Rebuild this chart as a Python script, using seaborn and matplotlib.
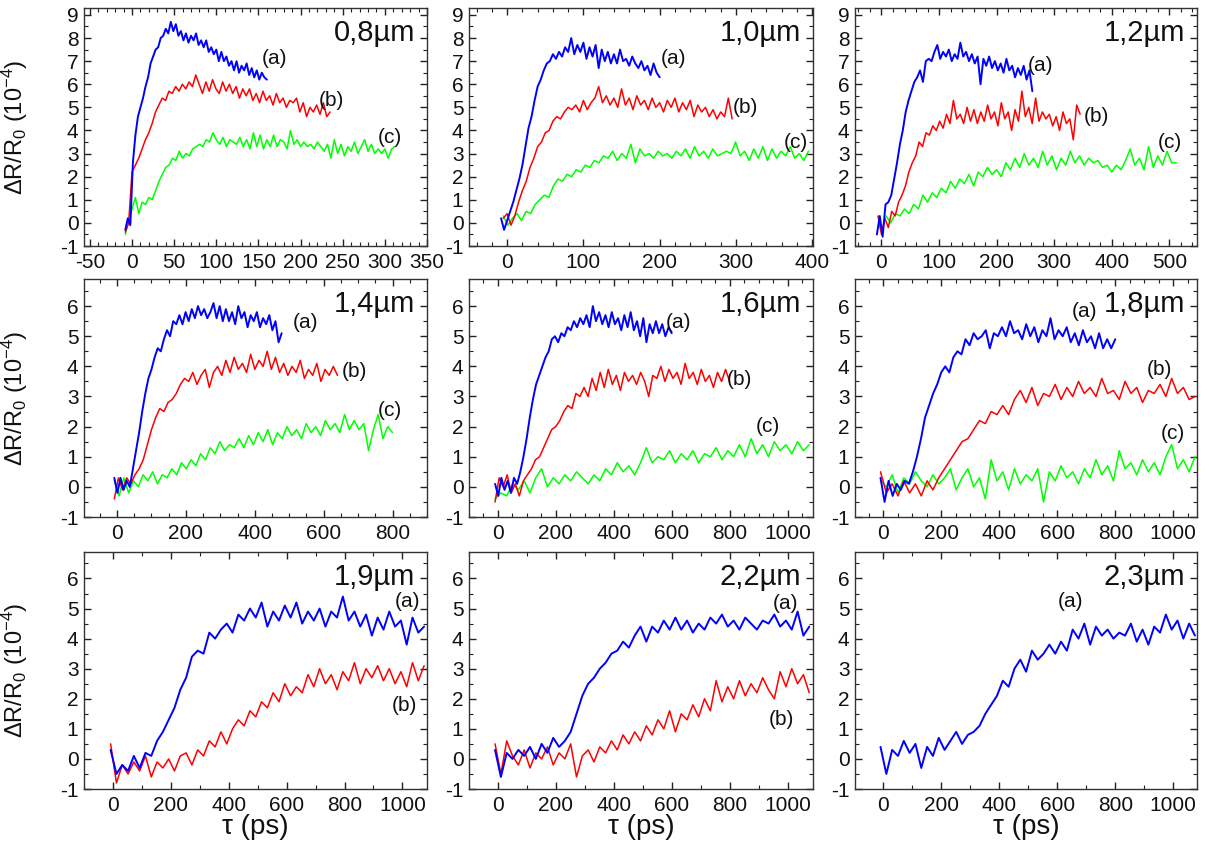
import numpy as np
import pandas as pd
import matplotlib
matplotlib.use("Agg")
import matplotlib.pyplot as plt
from matplotlib.ticker import MultipleLocator, AutoMinorLocator
import seaborn as sns

# ---------------- data ----------------
# Each trace: delay range (start, end) in ps and the dR/R0 values (1e-4), evenly sampled.
panel_titles = ["0,8µm", "1,0µm", "1,2µm", "1,4µm", "1,6µm", "1,8µm", "1,9µm", "2,2µm", "2,3µm"]

# 0.8 um
p1_a_range = (-8, 160)
p1_a = [-0.3, 0.2, -0.1, 2.6, 3.8, 4.6, 5.0, 5.4, 5.9, 6.3, 6.9, 7.2, 7.5, 7.6, 8.0, 8.1, 8.4, 8.2, 8.7, 8.3,
        8.6, 8.1, 8.3, 7.9, 8.2, 7.8, 8.1, 7.9, 8.2, 7.7, 7.9, 7.6, 7.9, 7.4, 7.6, 7.3, 7.5, 7.0, 7.4, 7.0,
        7.2, 6.8, 7.0, 6.6, 7.0, 6.5, 6.8, 6.6, 6.9, 6.4, 6.7, 6.3, 6.6, 6.2, 6.5, 6.3, 6.2]
p1_b_range = (-8, 235)
p1_b = [-0.4, 0.0, 2.2, 2.5, 2.8, 3.2, 3.6, 3.9, 4.3, 4.8, 5.1, 5.4, 5.3, 5.7, 5.6, 5.9, 5.7, 6.0, 5.8, 6.1,
        5.9, 6.4, 6.0, 5.6, 6.1, 5.7, 6.2, 5.8, 5.6, 6.1, 5.7, 6.0, 5.6, 5.9, 5.4, 5.8, 5.5, 5.8, 5.3, 5.6,
        5.2, 5.7, 5.3, 5.5, 5.1, 5.6, 5.2, 5.4, 5.0, 5.3, 5.2, 5.4, 4.8, 5.2, 4.6, 5.0, 4.8, 5.1, 4.7, 5.2,
        4.6, 4.8]
p1_c_range = (-8, 312)
p1_c = [-0.5, 0.1, 0.6, 1.1, 0.4, 0.9, 0.8, 1.1, 1.0, 1.4, 1.8, 2.1, 2.4, 2.5, 2.8, 2.7, 3.1, 2.8, 3.0, 2.9,
        3.2, 3.3, 3.4, 3.3, 3.6, 3.5, 3.9, 3.6, 3.4, 3.7, 3.3, 3.6, 3.5, 3.4, 3.7, 3.3, 3.6, 3.2, 3.9, 3.3,
        3.8, 3.2, 3.6, 3.3, 3.8, 3.3, 3.6, 3.5, 3.2, 4.0, 3.4, 3.6, 3.3, 3.5, 3.3, 3.4, 3.2, 3.5, 3.3, 3.1,
        3.4, 2.8, 3.6, 3.0, 3.4, 2.9, 3.3, 3.1, 3.5, 3.0, 3.3, 3.6, 3.1, 3.4, 3.0, 3.2, 3.0, 3.2, 2.8, 3.2,
        3.3]

# 1.0 um
p2_a_range = (-8, 200)
p2_a = [0.2, -0.3, 0.1, 0.5, 0.9, 1.4, 1.9, 2.5, 3.3, 4.1, 4.6, 5.3, 5.9, 6.2, 6.6, 6.9, 7.0, 7.3, 7.1, 7.4,
        7.2, 7.6, 7.4, 8.0, 7.3, 7.7, 7.4, 7.8, 7.1, 7.6, 7.2, 7.7, 6.7, 7.5, 7.0, 7.4, 6.9, 7.3, 6.9, 7.5,
        7.0, 7.1, 6.8, 7.2, 6.9, 6.7, 7.0, 6.6, 6.8, 6.4, 6.9, 6.5, 6.3]
p2_b_range = (-5, 295)
p2_b = [0.2, 0.4, -0.1, 0.3, 0.9, 1.4, 1.8, 2.4, 2.8, 3.3, 3.5, 3.9, 4.0, 4.4, 4.6, 4.5, 4.8, 5.0, 4.9, 5.1,
        4.8, 5.3, 4.9, 5.2, 5.4, 5.9, 5.2, 5.5, 5.1, 5.4, 5.0, 5.8, 5.1, 5.4, 4.9, 5.5, 5.1, 5.3, 4.9, 5.4,
        5.0, 5.2, 4.8, 5.3, 5.0, 5.4, 4.8, 5.2, 4.9, 5.3, 4.6, 5.1, 4.8, 5.0, 4.6, 4.9, 4.5, 4.8, 4.6, 5.4,
        4.5]
p2_c_range = (-5, 395)
p2_c = [0.3, -0.1, 0.2, 0.4, 0.1, 0.5, 0.4, 0.8, 1.0, 1.2, 1.1, 1.6, 1.9, 1.8, 2.1, 2.0, 2.3, 2.2, 2.5, 2.4,
        2.7, 2.6, 2.9, 2.8, 3.1, 2.7, 3.0, 2.8, 3.4, 2.6, 3.2, 2.9, 3.0, 2.8, 3.1, 2.9, 3.0, 2.8, 3.1, 2.9,
        3.2, 2.8, 3.3, 2.9, 3.1, 2.8, 3.2, 2.9, 3.0, 3.1, 3.0, 3.5, 2.9, 3.1, 2.7, 3.2, 2.8, 3.3, 2.7, 3.2,
        2.8, 3.1, 2.9, 3.3, 2.8, 3.0, 2.7, 3.1]

# 1.2 um
p3_a_range = (-8, 262)
p3_a = [-0.5, 0.3, -0.6, 0.8, 0.9, 1.2, 1.9, 2.6, 3.4, 4.0, 4.8, 5.3, 5.7, 6.1, 6.3, 6.6, 6.1, 7.0, 7.1, 7.0,
        7.4, 7.7, 7.1, 7.4, 7.2, 7.5, 7.0, 7.3, 7.1, 7.8, 7.2, 7.4, 7.0, 7.3, 6.9, 7.2, 6.0, 7.1, 6.8, 7.2,
        6.7, 7.0, 6.6, 6.9, 6.5, 7.1, 6.6, 6.8, 6.3, 6.7, 6.4, 6.8, 6.2, 6.6, 5.7]
p3_b_range = (-6, 345)
p3_b = [0.3, -0.5, 0.2, -0.2, 0.5, 0.3, 0.9, 1.2, 1.6, 2.2, 2.6, 2.9, 3.5, 3.3, 3.9, 3.8, 4.2, 4.0, 4.4, 4.1,
        4.7, 4.3, 5.3, 4.5, 4.7, 4.3, 5.0, 4.4, 4.9, 4.3, 4.8, 4.4, 5.1, 4.5, 4.8, 4.2, 5.2, 4.5, 4.8, 4.0,
        4.9, 4.4, 5.7, 4.6, 5.0, 4.3, 5.4, 4.4, 4.8, 4.5, 4.7, 4.2, 4.6, 4.0, 4.8, 4.3, 4.5, 3.6, 5.1, 4.7]
p3_c_range = (8, 512)
p3_c = [0.3, 0.0, 0.4, 0.3, 0.6, 0.4, 0.8, 0.6, 1.2, 0.9, 1.3, 1.1, 1.5, 1.3, 1.8, 1.5, 1.9, 1.7, 2.1, 1.6,
        2.2, 2.0, 2.4, 2.1, 2.3, 2.0, 2.6, 2.3, 2.8, 2.4, 3.0, 2.5, 2.8, 2.4, 3.1, 2.5, 2.9, 2.3, 2.8, 2.5,
        3.1, 2.6, 2.9, 2.5, 2.8, 2.6, 2.7, 2.4, 2.5, 2.2, 2.5, 2.3, 2.7, 3.2, 2.5, 2.8, 2.3, 3.3, 2.4, 2.9,
        2.5, 3.1, 2.6, 2.6]

# 1.4 um
p4_a_range = (-8, 478)
p4_a = [0.3, -0.2, 0.3, -0.1, 0.2, 0.0, 0.6, 1.2, 1.8, 2.5, 3.1, 3.6, 3.9, 4.3, 4.6, 4.5, 4.9, 5.2, 5.0, 5.5,
        5.4, 5.7, 5.4, 5.8, 5.5, 5.9, 5.6, 6.0, 5.7, 5.9, 5.6, 5.8, 6.1, 5.6, 6.0, 5.5, 5.9, 5.5, 5.8, 5.4,
        6.0, 5.6, 5.8, 5.3, 5.7, 5.5, 5.8, 5.3, 5.6, 5.4, 5.7, 5.2, 5.5, 4.8, 5.1]
p4_b_range = (-8, 640)
p4_b = [-0.4, 0.3, -0.1, 0.3, 0.1, 0.4, 0.6, 0.9, 1.4, 1.9, 2.3, 2.6, 2.5, 2.8, 2.9, 3.1, 3.4, 3.6, 3.5, 3.8,
        3.4, 3.7, 3.9, 3.3, 3.8, 4.0, 3.7, 4.2, 3.8, 4.3, 3.9, 4.1, 3.8, 4.4, 3.9, 4.2, 4.0, 4.5, 3.9, 4.3,
        3.8, 4.1, 3.7, 4.0, 3.8, 4.2, 3.6, 3.9, 3.7, 4.1, 3.5, 3.9, 3.7, 4.0, 3.7]
p4_c_range = (-8, 800)
p4_c = [0.2, -0.3, 0.3, -0.2, 0.2, 0.0, 0.4, 0.2, 0.5, 0.1, 0.4, 0.3, 0.6, 0.4, 0.8, 0.6, 0.9, 0.7, 1.1, 0.9,
        1.3, 1.1, 1.5, 1.2, 1.4, 1.3, 1.6, 1.3, 1.7, 1.4, 1.8, 1.5, 1.9, 1.4, 1.8, 1.6, 2.0, 1.7, 1.9, 1.6,
        2.1, 1.8, 2.0, 1.7, 2.2, 1.9, 2.1, 1.8, 2.4, 1.9, 2.2, 1.9, 2.1, 1.2, 1.9, 2.4, 1.6, 2.0, 1.8]

# 1.6 um
p5_a_range = (-10, 600)
p5_a = [0.1, -0.3, 0.3, -0.1, 0.2, -0.2, 0.3, 0.1, 0.5, 1.0, 1.6, 2.3, 2.9, 3.4, 3.7, 4.0, 4.3, 4.5, 4.9, 5.0,
        4.8, 5.1, 5.0, 5.3, 5.2, 5.5, 5.3, 5.6, 5.4, 5.7, 5.3, 6.0, 5.5, 5.8, 5.4, 5.7, 5.3, 5.8, 5.4, 5.6,
        5.2, 5.7, 5.3, 5.8, 5.2, 5.5, 5.0, 5.6, 4.8, 5.4, 5.1, 5.5, 5.1, 5.4, 5.0, 5.3, 5.1]
p5_b_range = (-10, 800)
p5_b = [-0.5, 0.3, 0.0, 0.4, -0.2, 0.1, -0.3, 0.2, 0.4, 0.6, 0.9, 1.0, 1.3, 1.6, 1.9, 2.0, 2.2, 2.5, 2.7, 2.6,
        3.1, 3.0, 3.3, 3.0, 3.6, 3.2, 3.8, 3.3, 3.9, 3.4, 3.7, 3.2, 3.8, 3.5, 3.7, 3.4, 3.8, 3.5, 3.0, 3.7,
        3.6, 4.0, 3.5, 3.9, 3.6, 3.8, 3.4, 4.1, 3.6, 3.8, 3.4, 3.9, 3.5, 3.7, 3.3, 3.8, 3.5, 3.9, 3.5]
p5_c_range = (-10, 1075)
p5_c = [-0.4, -0.2, -0.3, 0.1, -0.1, 0.2, -0.2, 0.3, 0.6, 0.0, 0.3, 0.1, 0.4, 0.2, 0.5, 0.3, 0.1, 0.4, 0.2, 0.6,
        0.4, 0.8, 0.5, 0.7, 0.4, 0.8, 1.3, 0.8, 1.0, 0.9, 1.2, 0.8, 1.1, 0.9, 1.2, 0.8, 1.1, 1.0, 1.3, 0.9,
        1.2, 1.0, 1.4, 1.0, 1.6, 1.1, 1.4, 1.0, 1.5, 1.2, 1.4, 1.1, 1.5, 1.2, 1.4]

# 1.8 um
p6_a_range = (-10, 800)
p6_a = [0.3, -0.5, 0.2, -0.3, 0.1, -0.1, 0.2, 0.1, 0.5, 1.0, 1.6, 2.3, 2.7, 3.1, 3.4, 3.8, 4.0, 3.8, 4.3, 4.5,
        4.4, 4.9, 4.7, 5.1, 4.9, 5.0, 5.2, 4.6, 5.1, 5.0, 5.3, 5.0, 5.5, 5.1, 5.2, 4.9, 5.4, 5.0, 5.3, 4.8,
        5.2, 5.0, 5.6, 4.9, 5.2, 5.0, 5.3, 4.8, 5.1, 4.7, 5.2, 4.8, 5.0, 4.6, 5.1, 4.6, 4.9, 4.6, 4.9]
p6_b_range = (-10, 1075)
p6_b = [0.5, -0.2, 0.1, -0.3, 0.2, -0.2, 0.1, -0.3, 0.2, -0.1, 0.3, 0.6, 0.9, 1.2, 1.5, 1.6, 1.9, 2.2, 2.1, 2.5,
        2.4, 2.7, 2.4, 2.9, 3.2, 2.8, 3.3, 2.7, 3.1, 3.0, 3.4, 2.9, 3.3, 3.0, 3.5, 3.1, 3.3, 3.0, 3.6, 3.1,
        3.2, 2.9, 3.5, 3.1, 3.3, 2.8, 3.2, 3.1, 3.4, 3.0, 3.6, 3.1, 3.3, 2.9, 3.0]
p6_c_range = (-10, 1075)
p6_c = [0.2, 0.0, 0.4, -0.2, 0.3, 0.1, 0.5, 0.2, 0.0, 0.4, 0.1, 0.3, 0.6, -0.1, 0.3, 0.6, 0.0, 0.3, -0.4, 0.9,
        0.2, 0.5, -0.1, 0.6, 0.1, 0.4, 0.2, 0.6, -0.5, 0.5, 0.2, 0.7, 0.3, 0.5, 0.1, 0.6, 0.3, 0.9, 0.4, 0.7,
        0.2, 1.2, 0.6, 0.8, 0.4, 0.9, 0.5, 0.8, 0.4, 1.0, 1.4, 0.6, 0.9, 0.5, 1.0]

# 1.9 um
p7_a_range = (-8, 1075)
p7_a = [0.3, -0.5, -0.2, -0.4, 0.1, -0.3, 0.2, 0.1, 0.6, 0.9, 1.3, 1.7, 2.3, 2.7, 3.4, 3.6, 3.5, 4.2, 4.0, 4.3,
        4.5, 4.2, 4.8, 4.6, 5.0, 4.7, 5.2, 4.4, 4.9, 4.6, 5.1, 4.7, 5.2, 4.5, 4.9, 4.6, 5.0, 4.4, 4.9, 4.7,
        5.4, 4.6, 4.9, 4.4, 4.8, 4.1, 4.7, 4.3, 4.9, 4.4, 4.6, 3.8, 4.7, 4.2, 4.4]
p7_b_range = (-8, 1075)
p7_b = [0.5, -0.8, -0.2, -0.5, -0.1, -0.4, 0.1, -0.6, -0.1, -0.3, 0.0, -0.4, 0.1, 0.2, -0.2, 0.3, 0.1, 0.6, 0.4, 0.9,
        0.5, 1.0, 1.3, 1.1, 1.6, 1.4, 1.9, 1.7, 2.2, 1.9, 2.5, 2.1, 2.4, 2.2, 2.8, 2.4, 3.0, 2.5, 2.8, 2.3,
        2.9, 2.6, 3.2, 2.5, 3.0, 2.7, 3.1, 2.6, 3.0, 2.5, 2.9, 2.4, 3.2, 2.6, 3.1]

# 2.2 um
p8_a_range = (-10, 1075)
p8_a = [0.3, -0.6, 0.2, 0.0, 0.3, 0.1, 0.4, 0.0, 0.5, 0.2, 0.7, 0.4, 0.6, 0.9, 1.5, 2.1, 2.5, 2.7, 3.0, 3.2,
        3.5, 3.6, 3.9, 3.7, 4.1, 4.4, 3.9, 4.4, 4.2, 4.6, 4.3, 4.7, 4.3, 4.6, 4.2, 4.5, 4.3, 4.7, 4.5, 4.8,
        4.4, 4.6, 4.3, 4.7, 4.5, 4.3, 4.6, 4.5, 4.8, 4.4, 4.6, 4.3, 4.9, 4.1, 4.4]
p8_b_range = (-10, 1075)
p8_b = [0.5, -0.5, 0.6, 0.1, -0.2, 0.3, -0.3, 0.2, 0.0, 0.4, -0.2, 0.2, 0.0, 0.5, -0.6, 0.1, 0.3, -0.1, 0.4, 0.2,
        0.6, 0.3, 0.8, 0.5, 0.9, 0.6, 1.1, 0.8, 1.3, 1.0, 1.6, 0.9, 1.5, 1.3, 1.8, 1.4, 2.0, 1.6, 2.6, 1.9,
        2.4, 2.0, 2.6, 2.1, 2.5, 2.2, 2.7, 2.3, 2.0, 2.9, 2.4, 3.0, 2.5, 2.8, 2.2]

# 2.3 um
p9_a_range = (-10, 1075)
p9_a = [0.4, -0.5, 0.3, 0.1, 0.6, 0.2, 0.5, -0.3, 0.4, 0.1, 0.7, 0.3, 0.6, 0.9, 0.5, 0.8, 0.9, 1.1, 1.5, 1.8,
        2.1, 2.6, 2.4, 3.0, 3.3, 2.9, 3.6, 3.3, 3.5, 3.8, 3.5, 3.9, 3.6, 4.3, 4.0, 4.5, 3.8, 4.4, 4.1, 4.3,
        4.0, 4.2, 4.1, 4.5, 3.9, 4.3, 3.8, 4.4, 4.2, 4.8, 4.3, 4.6, 4.0, 4.5, 4.1]

panels = [
    {"a": (p1_a_range, p1_a), "b": (p1_b_range, p1_b), "c": (p1_c_range, p1_c)},
    {"a": (p2_a_range, p2_a), "b": (p2_b_range, p2_b), "c": (p2_c_range, p2_c)},
    {"a": (p3_a_range, p3_a), "b": (p3_b_range, p3_b), "c": (p3_c_range, p3_c)},
    {"a": (p4_a_range, p4_a), "b": (p4_b_range, p4_b), "c": (p4_c_range, p4_c)},
    {"a": (p5_a_range, p5_a), "b": (p5_b_range, p5_b), "c": (p5_c_range, p5_c)},
    {"a": (p6_a_range, p6_a), "b": (p6_b_range, p6_b), "c": (p6_c_range, p6_c)},
    {"a": (p7_a_range, p7_a), "b": (p7_b_range, p7_b)},
    {"a": (p8_a_range, p8_a), "b": (p8_b_range, p8_b)},
    {"a": (p9_a_range, p9_a)},
]

# curve-label positions (tau, value)
label_pos = [
    {"a": (169, 7.1), "b": (237, 5.3), "c": (306, 3.7)},
    {"a": (218, 7.1), "b": (312, 5.0), "c": (378, 3.5)},
    {"a": (276, 6.8), "b": (374, 4.6), "c": (501, 3.5)},
    {"a": (546, 5.44), "b": (690, 3.83), "c": (792, 2.55)},
    {"a": (625, 5.44), "b": (833, 3.55), "c": (931, 2.0)},
    {"a": (695, 5.83), "b": (954, 3.9), "c": (1000, 1.78)},
    {"a": (1018, 5.22), "b": (1006, 1.79)},
    {"a": (994, 5.17), "b": (980, 1.3)},
    {"a": (644, 5.22)},
]

x_limits = [(-57, 350), (-50, 401), (-46, 548), (-96, 900), (-100, 1088), (-98, 1082),
            (-100, 1085), (-100, 1088), (-98, 1082)]
x_major = [50, 100, 100, 200, 200, 200, 200, 200, 200]
x_minor_div = [5, 5, 5, 4, 4, 4, 2, 2, 2]
y_limits = [(-1, 9.3)] * 3 + [(-1, 6.9)] * 3 + [(-1, 6.88)] * 3

colors = {"a": "#0000ff", "b": "#ff0000", "c": "#00ff00"}
widths = {"a": 1.4, "b": 1.1, "c": 1.1}

# ---------------- figure ----------------
sns.set_theme(style="ticks")
plt.rcParams["font.family"] = ["Liberation Sans", "DejaVu Sans"]
plt.rcParams["mathtext.default"] = "regular"
plt.rcParams["axes.unicode_minus"] = False

W, H = 1209, 846
fig = plt.figure(figsize=(W / 100, H / 100), dpi=100)
col_px = [(84, 427), (469, 813), (855, 1197)]
row_px = [(8, 246), (279, 517), (552, 789)]

for i in range(9):
    r, c = divmod(i, 3)
    l, rr = col_px[c]
    t, b = row_px[r]
    ax = fig.add_axes([l / W, 1 - b / H, (rr - l) / W, (b - t) / H])

    rows = []
    for key, (rng, vals) in panels[i].items():
        tau = np.linspace(rng[0], rng[1], len(vals))
        rows.append(pd.DataFrame({"tau": tau, "dR": vals, "trace": key}))
    df = pd.concat(rows, ignore_index=True)
    for key in reversed(list(panels[i].keys())):
        sns.lineplot(data=df[df["trace"] == key], x="tau", y="dR", color=colors[key],
                     linewidth=widths[key], estimator=None, sort=False, ax=ax, legend=False)

    for key, (lx, ly) in label_pos[i].items():
        ax.text(lx, ly, f"({key})", fontsize=15, ha="center", va="center", color="#111111")

    ax.text(0.965, 0.955, panel_titles[i], transform=ax.transAxes, fontsize=21,
            ha="right", va="top", color="#111111")

    ax.set_xlim(*x_limits[i])
    ax.set_ylim(*y_limits[i])
    ax.xaxis.set_major_locator(MultipleLocator(x_major[i]))
    ax.xaxis.set_minor_locator(AutoMinorLocator(x_minor_div[i]))
    ax.yaxis.set_major_locator(MultipleLocator(1))
    ax.yaxis.set_minor_locator(AutoMinorLocator(2))
    ax.tick_params(which="both", direction="in", top=True, right=True, labelsize=15,
                   colors="#222222", labelcolor="#111111")
    ax.tick_params(which="major", length=5, width=1)
    ax.tick_params(axis="x", which="major", pad=5)
    ax.tick_params(axis="y", which="major", pad=4)
    ax.tick_params(which="minor", length=3, width=0.8)
    for s in ax.spines.values():
        s.set_color("#333333")
        s.set_linewidth(1.0)

    if c == 0:
        ax.set_ylabel("ΔR/R$_0$ (10$^{-4}$)", fontsize=17, color="#111111")
        ax.yaxis.set_label_coords(-0.158, 0.5)
    else:
        ax.set_ylabel("")
    if r == 2:
        ax.set_xlabel("τ (ps)", fontsize=20, color="#111111", va="top")
        ax.xaxis.set_label_coords(0.5, -0.105)
    else:
        ax.set_xlabel("")

fig.savefig("out.png", dpi=100)
